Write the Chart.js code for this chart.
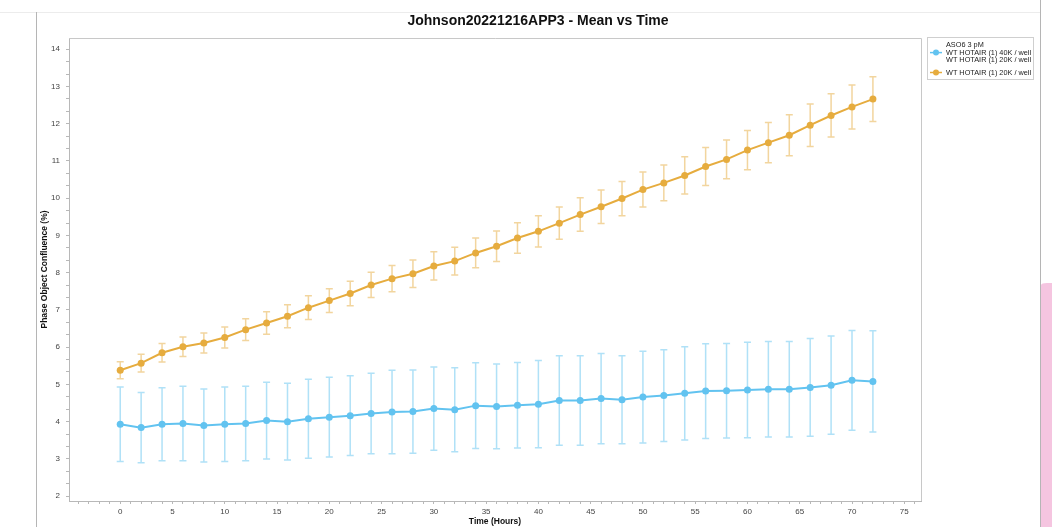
<!DOCTYPE html>
<html>
<head>
<meta charset="utf-8">
<script src="https://cdn.jsdelivr.net/npm/chart.js@4.4.0/dist/chart.umd.min.js"></script>
<style>
  html, body { margin: 0; padding: 0; background: #fff; }
  #wrap { position: relative; width: 1052px; height: 527px; overflow: hidden; }
  #grafico { position: absolute; left: 0; top: 0; }
  .linha { position: absolute; background: #b5b5b5; }
  #rosa { position: absolute; left: 1041px; top: 283px; width: 30px; height: 260px;
          background: #f5c5e0; border-top-left-radius: 6px 2px; }
</style>
</head>
<body>
<div id="wrap">
  <canvas id="grafico" width="1052" height="527"></canvas>
  <div class="linha" style="left:0;top:12px;width:1040px;height:1px;background:#ececec"></div>
  <div class="linha" style="left:36px;top:12px;width:1px;height:515px"></div>
  <div class="linha" style="left:1040px;top:0;width:1px;height:527px"></div>
  <div id="rosa"></div>
</div>
<script>
// Tempo (horas)
const horas = [0, 2, 4, 6, 8, 10, 12, 14, 16, 18, 20, 22, 24, 26, 28, 30, 32, 34, 36,
    38, 40, 42, 44, 46, 48, 50, 52, 54, 56, 58, 60, 62, 64, 66, 68, 70, 72];

// WT HOTAIR (1) 40K / well (azul)
const mediaAzul = [3.93, 3.84, 3.93, 3.95, 3.90, 3.93, 3.95, 4.03, 4.00, 4.08, 4.12, 4.16, 4.22,
    4.26, 4.27, 4.35, 4.32, 4.43, 4.41, 4.44, 4.47, 4.57, 4.57, 4.62, 4.59, 4.66,
    4.70, 4.76, 4.82, 4.83, 4.85, 4.87, 4.87, 4.92, 4.98, 5.11, 5.08];
const erroAzul = [1.00, 0.94, 0.98, 1.00, 0.98, 1.00, 1.00, 1.03, 1.03, 1.06, 1.07, 1.07, 1.08,
    1.12, 1.12, 1.12, 1.13, 1.15, 1.14, 1.15, 1.17, 1.20, 1.20, 1.21, 1.18, 1.23,
    1.23, 1.25, 1.27, 1.27, 1.28, 1.28, 1.28, 1.31, 1.32, 1.34, 1.36];

// WT HOTAIR (1) 20K / well (laranja)
const mediaLaranja = [5.38, 5.57, 5.85, 6.01, 6.11, 6.26, 6.47, 6.65, 6.83, 7.06, 7.25, 7.44, 7.67,
    7.84, 7.97, 8.18, 8.31, 8.53, 8.71, 8.93, 9.11, 9.33, 9.56, 9.77, 9.99, 10.23,
    10.41, 10.61, 10.85, 11.04, 11.29, 11.49, 11.69, 11.96, 12.22, 12.45, 12.66];
const erroLaranja = [0.23, 0.24, 0.25, 0.26, 0.27, 0.28, 0.29, 0.30, 0.31, 0.32, 0.32, 0.33, 0.34,
    0.35, 0.37, 0.38, 0.37, 0.40, 0.41, 0.41, 0.42, 0.43, 0.45, 0.45, 0.46, 0.47,
    0.48, 0.50, 0.51, 0.52, 0.53, 0.54, 0.55, 0.57, 0.58, 0.59, 0.60];

// Ticks
const ticksX = [0, 5, 10, 15, 20, 25, 30, 35, 40, 45, 50, 55, 60, 65, 70, 75];
const ticksY = [2, 3, 4, 5, 6, 7, 8, 9, 10, 11, 12, 13, 14];

const titulo = 'Johnson20221216APP3 - Mean vs Time';
const legendaAzul = ['ASO6 3 pM', 'WT HOTAIR (1) 40K / well', 'WT HOTAIR (1) 20K / well'];
const legendaLaranja = ['WT HOTAIR (1) 20K / well'];

const corAzul = '#62c3f0';
const corLaranja = '#e6ac3e';
const FONTE = "'Liberation Sans', Arial, sans-serif";

const series = [
    { media: mediaAzul, erro: erroAzul, cor: 'rgba(98,195,240,0.5)' },
    { media: mediaLaranja, erro: erroLaranja, cor: 'rgba(230,172,62,0.5)' }
];

// barras de erro desenhadas pelas escalas do gráfico
const pluginErro = {
    id: 'barrasErro',
    beforeDatasetsDraw(chart) {
        const { ctx, scales: { x, y } } = chart;
        ctx.save();
        ctx.lineWidth = 1.5;
        series.forEach(s => {
            ctx.strokeStyle = s.cor;
            horas.forEach((h, i) => {
                const px = x.getPixelForValue(h);
                const yTop = y.getPixelForValue(s.media[i] + s.erro[i]);
                const yBot = y.getPixelForValue(s.media[i] - s.erro[i]);
                ctx.beginPath();
                ctx.moveTo(px, yTop); ctx.lineTo(px, yBot);
                ctx.moveTo(px - 3.5, yTop); ctx.lineTo(px + 3.5, yTop);
                ctx.moveTo(px - 3.5, yBot); ctx.lineTo(px + 3.5, yBot);
                ctx.stroke();
            });
        });
        ctx.restore();
    }
};

// título, moldura e legenda
const pluginExtras = {
    id: 'extras',
    afterDraw(chart) {
        const { ctx, chartArea: a } = chart;
        ctx.save();
        ctx.strokeStyle = '#c8c8c8';
        ctx.lineWidth = 1;
        ctx.beginPath();
        ctx.moveTo(a.left, a.top + 0.5); ctx.lineTo(a.right + 0.5, a.top + 0.5);
        ctx.lineTo(a.right + 0.5, a.bottom);
        ctx.stroke();

        ctx.fillStyle = '#111';
        ctx.font = 'bold 14px ' + FONTE;
        ctx.textAlign = 'center';
        ctx.textBaseline = 'middle';
        ctx.fillText(titulo, 538, 21);

        // legenda
        ctx.strokeStyle = '#cfcfcf';
        ctx.strokeRect(927.5, 37.5, 106, 42);
        ctx.font = '7.3px ' + FONTE;
        ctx.textAlign = 'left';
        ctx.fillStyle = '#222';
        legendaAzul.forEach((t, i) => ctx.fillText(t, 946, 45 + i * 7.6));
        legendaLaranja.forEach((t, i) => ctx.fillText(t, 946, 72.5 + i * 7.6));
        [[corAzul, 52.6], [corLaranja, 72.5]].forEach(([c, yy]) => {
            ctx.strokeStyle = c;
            ctx.fillStyle = c;
            ctx.lineWidth = 1.5;
            ctx.beginPath(); ctx.moveTo(930, yy); ctx.lineTo(942, yy); ctx.stroke();
            ctx.beginPath(); ctx.arc(936, yy, 3, 0, Math.PI * 2); ctx.fill();
        });
        ctx.restore();
    }
};

function pontos(media) {
    return horas.map((h, i) => ({ x: h, y: media[i] }));
}

const ctx = document.getElementById('grafico').getContext('2d');
new Chart(ctx, {
    type: 'line',
    data: {
        datasets: [
            {
                label: legendaAzul.join(' '),
                data: pontos(mediaAzul),
                borderColor: corAzul, backgroundColor: corAzul,
                borderWidth: 2, pointRadius: 3.5, pointHoverRadius: 3.5, pointBorderWidth: 0,
                fill: false, tension: 0
            },
            {
                label: legendaLaranja.join(' '),
                data: pontos(mediaLaranja),
                borderColor: corLaranja, backgroundColor: corLaranja,
                borderWidth: 2, pointRadius: 3.5, pointHoverRadius: 3.5, pointBorderWidth: 0,
                fill: false, tension: 0
            }
        ]
    },
    options: {
        responsive: false,
        animation: false,
        events: [],
        layout: { padding: { top: 38, right: 131, bottom: 0, left: 0 } },
        plugins: { legend: { display: false }, title: { display: false }, tooltip: { enabled: false } },
        scales: {
            x: {
                type: 'linear', min: -4.9, max: 76.6,
                afterFit(scale) { scale.height = 26; },
                afterBuildTicks(scale) {
                    const t = [];
                    for (let v = -4; v <= 76; v++) t.push({ value: v });
                    scale.ticks = t;
                },
                ticks: {
                    autoSkip: false, maxRotation: 0, padding: 3,
                    color: '#444', font: { family: FONTE, size: 8 },
                    callback: v => ticksX.includes(v) ? String(v) : ''
                },
                grid: { drawOnChartArea: false, tickLength: 3, color: '#b8b8b8', tickColor: '#b8b8b8' },
                border: { color: '#b8b8b8' },
                title: {
                    display: true, text: 'Time (Hours)', color: '#111',
                    font: { family: FONTE, size: 8.5, weight: 'bold' }, padding: { top: 0, bottom: 0 }
                }
            },
            y: {
                type: 'linear', min: 1.87, max: 14.3,
                afterFit(scale) { scale.width = 69; },
                afterBuildTicks(scale) {
                    const t = [];
                    for (let k = 0; k <= 36; k++) t.push({ value: 2 + k / 3 });
                    scale.ticks = t;
                },
                ticks: {
                    autoSkip: false, padding: 6,
                    color: '#444', font: { family: FONTE, size: 8 },
                    callback: v => {
                        const r = Math.round(v);
                        return Math.abs(v - r) < 1e-6 && ticksY.includes(r) ? String(r) : '';
                    }
                },
                grid: { drawOnChartArea: false, tickLength: 3, color: '#b8b8b8', tickColor: '#b8b8b8' },
                border: { color: '#b8b8b8' },
                title: {
                    display: true, text: 'Phase Object Confluence (%)', color: '#111',
                    font: { family: FONTE, size: 8.5, weight: 'bold' }, padding: { top: 40, bottom: 0 }
                }
            }
        }
    },
    plugins: [pluginErro, pluginExtras]
});
</script>
</body>
</html>
